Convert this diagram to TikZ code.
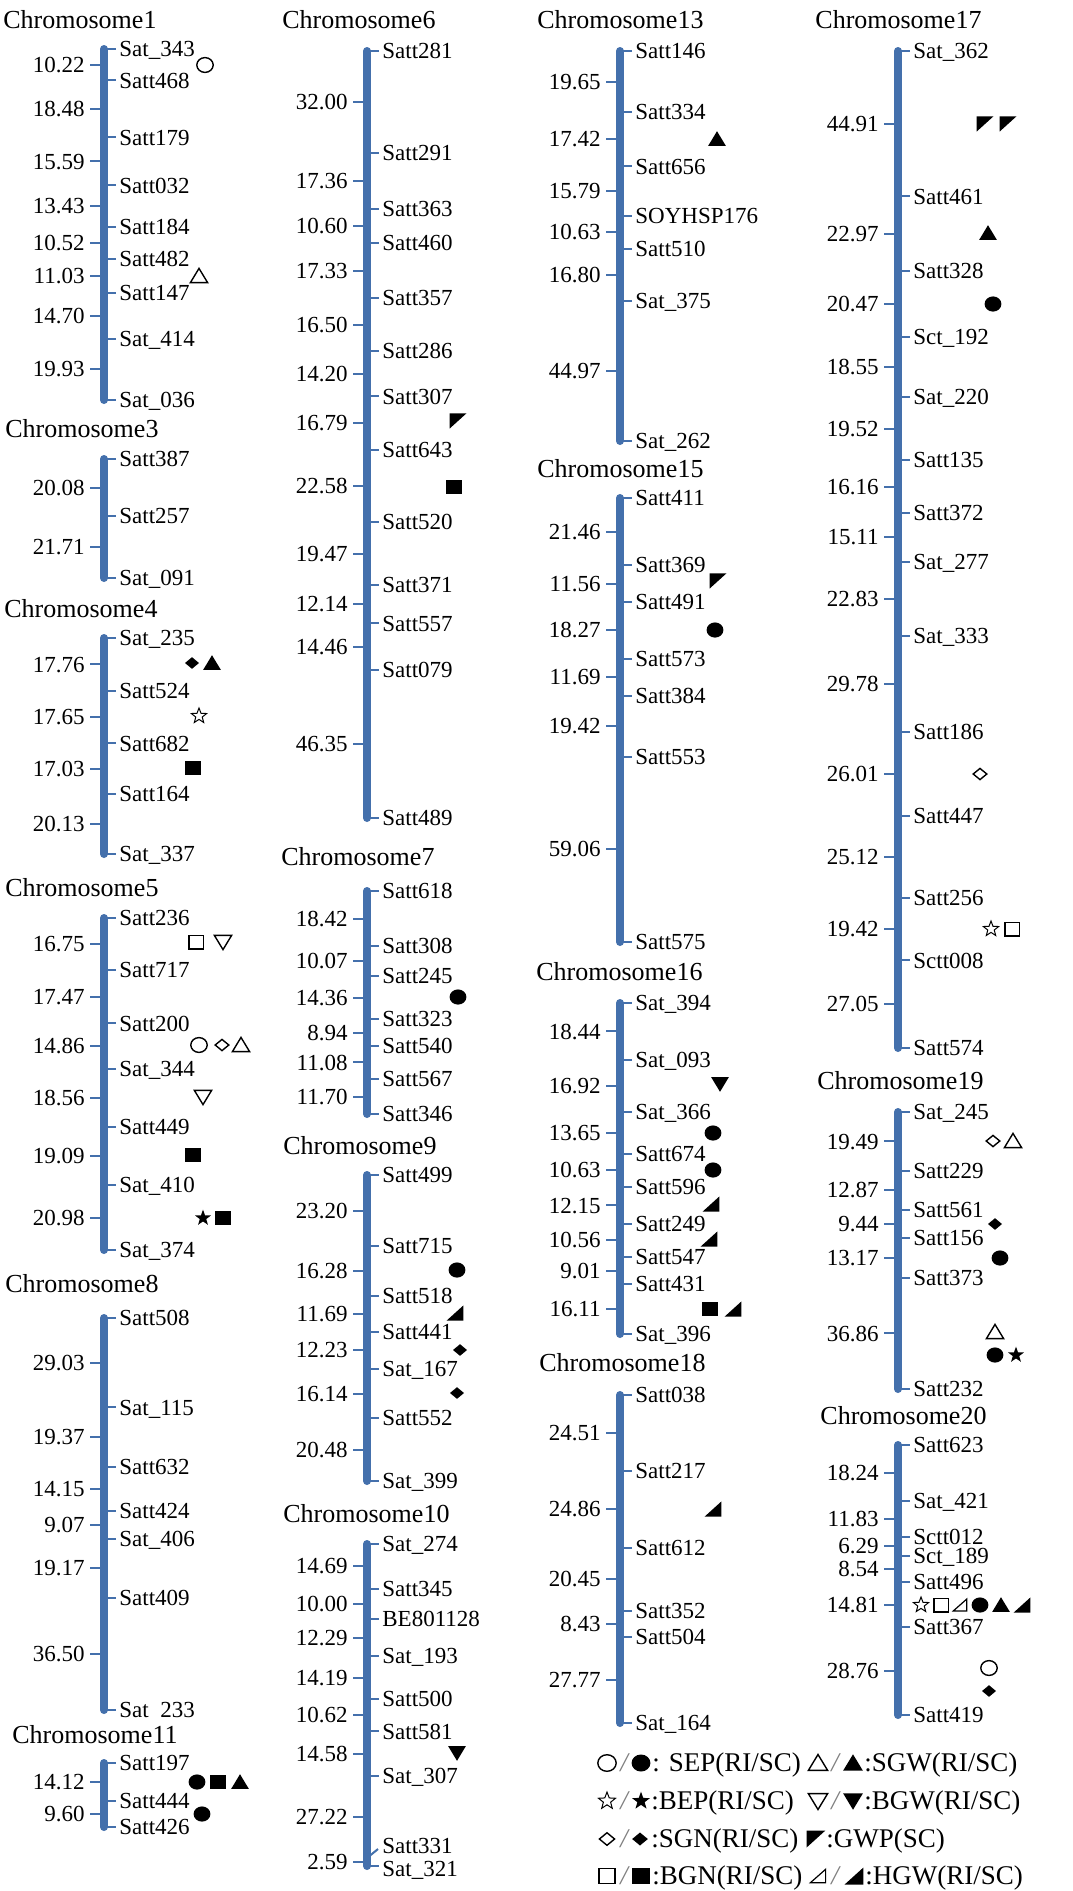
\documentclass[tikz,border=0pt]{standalone}
\usepackage{fontspec}
\setmainfont{Liberation Serif}
\definecolor{barblue}{RGB}{68,112,172}
\tikzset{
  x=0.5pt, y=-0.5pt,
  bar/.style={line width=4pt, draw=barblue, line cap=round},
  tick/.style={line width=1pt, draw=barblue},
  mk/.style={anchor=west, inner sep=0pt, text height=7.6pt, text depth=0pt, font=\fontsize{11.5}{13}\selectfont},
  num/.style={anchor=east, inner sep=0pt, text height=7.6pt, text depth=0pt, font=\fontsize{11.5}{13}\selectfont},
  ttl/.style={anchor=west, inner sep=0pt, text height=8.6pt, text depth=0pt, font=\fontsize{13}{15}\selectfont},
  lgt/.style={anchor=west, inner sep=0pt, text height=8.9pt, text depth=0pt, font=\fontsize{13.5}{15}\selectfont},
  lgs/.style={inner sep=0pt, text height=8.9pt, text depth=0pt, font=\fontsize{13.5}{15}\selectfont\itshape, gray},
  symo/.style={line width=0.7pt, draw=black},
}
\newcommand\chromo[7]{%
  \pgfmathsetmacro\chS{(#4-#3)/#5}%
  \draw[bar] (#2,#3) -- (#2,#4);
  \foreach \cm/\nm [count=\i] in {#6}{%
    \draw[tick] (#2,{#3+\cm*\chS}) -- ++(12,0);
    \node[mk] (#1m\i) at ({#2+15},{#3+\cm*\chS}) {\nm};
  }%
  \foreach \am/\vm [count=\i] in {#7}{%
    \draw[tick] (#2,{#3+(\am+\vm/2)*\chS}) -- ++(-14,0);
    \node[num] (#1d\i) at ({#2-19},{#3+(\am+\vm/2)*\chS}) {\vm};
  }%
}
\newcommand\putsym[3]{\begin{scope}[shift={(#2,#3)}]#1\end{scope}}
\newcommand\putsymL[3]{\begin{scope}[shift={(#2,#3)}, scale=1.12]#1\end{scope}}
\newcommand\syOC{\draw[symo] (0pt,0pt) ellipse [x radius=4.1pt, y radius=3.7pt];}
\newcommand\syFC{\fill (0pt,0pt) ellipse [x radius=4.2pt, y radius=3.8pt];}
\newcommand\syOS{\draw[symo] (-3.6pt,-3.4pt) rectangle (3.6pt,3.4pt);}
\newcommand\syFS{\fill (-3.8pt,-3.5pt) rectangle (3.8pt,3.5pt);}
\newcommand\syOT{\draw[symo] (-4.3pt,-3.3pt) -- (4.3pt,-3.3pt) -- (0pt,3.8pt) -- cycle;}
\newcommand\syFT{\fill (-4.4pt,-3.4pt) -- (4.4pt,-3.4pt) -- (0pt,3.9pt) -- cycle;}
\newcommand\syOV{\draw[symo] (-4.3pt,3.3pt) -- (4.3pt,3.3pt) -- (0pt,-3.8pt) -- cycle;}
\newcommand\syFV{\fill (-4.4pt,3.4pt) -- (4.4pt,3.4pt) -- (0pt,-3.9pt) -- cycle;}
\newcommand\syOD{\draw[symo] (-3.4pt,0pt) -- (0pt,2.8pt) -- (3.4pt,0pt) -- (0pt,-2.8pt) -- cycle;}
\newcommand\syFD{\fill (-3.5pt,0pt) -- (0pt,2.9pt) -- (3.5pt,0pt) -- (0pt,-2.9pt) -- cycle;}
\newcommand\syOStar{\draw[line width=0.5pt] (90:4pt)--(126:1.7pt)--(162:4pt)--(198:1.7pt)--(234:4pt)--(270:1.7pt)--(306:4pt)--(342:1.7pt)--(18:4pt)--(54:1.7pt)--cycle;}
\newcommand\syFStar{\fill (90:4.2pt)--(126:1.7pt)--(162:4.2pt)--(198:1.7pt)--(234:4.2pt)--(270:1.7pt)--(306:4.2pt)--(342:1.7pt)--(18:4.2pt)--(54:1.7pt)--cycle;}
\newcommand\syGWP{\fill (-4.2pt,3.8pt) -- (4.2pt,3.8pt) -- (-4.2pt,-3.8pt) -- cycle;}
\newcommand\syFH{\fill (4.2pt,-3.8pt) -- (4.2pt,3.8pt) -- (-4.2pt,-3.8pt) -- cycle;}
\newcommand\syOH{\draw[line width=0.6pt] (3.4pt,-3pt) -- (3.4pt,3pt) -- (-3.4pt,-3pt) -- cycle;}
\begin{document}
\begin{tikzpicture}
\useasboundingbox (0,0) rectangle (1072,1891);
\fill[white] (0,0) rectangle (1072,1891);

% ---------- column 1 ----------
\node[ttl] (t1) at (3,20) {Chromosome1};
\chromo{c1}{104}{49}{400}{113.90}{0/Sat\_343, 10.22/Satt468, 28.70/Satt179, 44.29/Satt032, 57.72/Satt184, 68.24/Satt482, 79.27/Satt147, 93.97/Sat\_414, 113.90/Sat\_036}{0/10.22, 10.22/18.48, 28.70/15.59, 44.29/13.43, 57.72/10.52, 68.24/11.03, 79.27/14.70, 93.97/19.93}
\node[ttl] (t3) at (5,429) {Chromosome3};
\chromo{c3}{104}{459}{578}{41.79}{0/Satt387, 20.08/Satt257, 41.79/Sat\_091}{0/20.08, 20.08/21.71}
\node[ttl] (t4) at (4,609) {Chromosome4};
\chromo{c4}{104}{638}{854}{72.57}{0/Sat\_235, 17.76/Satt524, 35.41/Satt682, 52.44/Satt164, 72.57/Sat\_337}{0/17.76, 17.76/17.65, 35.41/17.03, 52.44/20.13}
\node[ttl] (t5) at (5,888) {Chromosome5};
\chromo{c5}{104}{918}{1250}{107.71}{0/Satt236, 16.75/Satt717, 34.22/Satt200, 49.08/Sat\_344, 67.64/Satt449, 86.73/Sat\_410, 107.71/Sat\_374}{0/16.75, 16.75/17.47, 34.22/14.86, 49.08/18.56, 67.64/19.09, 86.73/20.98}
\node[ttl] (t8) at (5,1284) {Chromosome8};
\chromo{c8}{104}{1318}{1710}{127.29}{0/Satt508, 29.03/Sat\_115, 48.40/Satt632, 62.55/Satt424, 71.62/Sat\_406, 90.79/Satt409, 127.29/Sat\kern0.5em 233}{0/29.03, 29.03/19.37, 48.40/14.15, 62.55/9.07, 71.62/19.17, 90.79/36.50}
\node[ttl] (t11) at (12,1735) {Chromosome11};
\chromo{c11}{104}{1763}{1827}{23.72}{0/Satt197, 14.12/Satt444, 23.72/Satt426}{0/14.12, 14.12/9.60}

% ---------- column 2 ----------
\node[ttl] (t6) at (282,20) {Chromosome6};
\chromo{c6}{367}{51}{818}{239.78}{0/Satt281, 32.00/Satt291, 49.36/Satt363, 59.96/Satt460, 77.29/Satt357, 93.79/Satt286, 107.99/Satt307, 124.78/Satt643, 147.36/Satt520, 166.83/Satt371, 178.97/Satt557, 193.43/Satt079, 239.78/Satt489}{0/32.00, 32.00/17.36, 49.36/10.60, 59.96/17.33, 77.29/16.50, 93.79/14.20, 107.99/16.79, 124.78/22.58, 147.36/19.47, 166.83/12.14, 178.97/14.46, 193.43/46.35}
\node[ttl] (t7) at (281,857) {Chromosome7};
\chromo{c7}{367}{891}{1114}{74.57}{0/Satt618, 18.42/Satt308, 28.49/Satt245, 42.85/Satt323, 51.79/Satt540, 62.87/Satt567, 74.57/Satt346}{0/18.42, 18.42/10.07, 28.49/14.36, 42.85/8.94, 51.79/11.08, 62.87/11.70}
\node[ttl] (t9) at (283,1146) {Chromosome9};
\chromo{c9}{367}{1175}{1481}{100.02}{0/Satt499, 23.20/Satt715, 39.48/Satt518, 51.17/Satt441, 63.40/Sat\_167, 79.54/Satt552, 100.02/Sat\_399}{0/23.20, 23.20/16.28, 39.48/11.69, 51.17/12.23, 63.40/16.14, 79.54/20.48}
\node[ttl] (t10) at (283,1514) {Chromosome10};
\chromo{c10}{367}{1544}{1866}{106.18}{0/Sat\_274, 14.69/Satt345, 24.69/BE801128, 36.98/Sat\_193, 51.17/Satt500, 61.79/Satt581, 76.37/Sat\_307}{0/14.69, 14.69/10.00, 24.69/12.29, 36.98/14.19, 51.17/10.62, 61.79/14.58, 76.37/27.22, 103.59/2.59}
\coordinate (c10a) at (367,1858);
\coordinate (c10b) at (378,1849);
\draw[tick] (c10a) -- (c10b);
\node[mk] (c10m8) at (382,1846) {Satt331};
\coordinate (c10c) at (367,1866);
\coordinate (c10d) at (379,1866);
\draw[tick] (c10c) -- (c10d);
\node[mk] (c10m9) at (382,1869) {Sat\_321};

% ---------- column 3 ----------
\node[ttl] (t13) at (537,20) {Chromosome13};
\chromo{c13}{620}{51}{441}{125.26}{0/Satt146, 19.65/Satt334, 37.07/Satt656, 52.86/SOYHSP176, 63.49/Satt510, 80.29/Sat\_375, 125.26/Sat\_262}{0/19.65, 19.65/17.42, 37.07/15.79, 52.86/10.63, 63.49/16.80, 80.29/44.97}
\node[ttl] (t15) at (537,469) {Chromosome15};
\chromo{c15}{620}{498}{942}{141.46}{0/Satt411, 21.46/Satt369, 33.02/Satt491, 51.29/Satt573, 62.98/Satt384, 82.40/Satt553, 141.46/Satt575}{0/21.46, 21.46/11.56, 33.02/18.27, 51.29/11.69, 62.98/19.42, 82.40/59.06}
\node[ttl] (t16) at (536,972) {Chromosome16};
\chromo{c16}{620}{1003}{1334}{107.47}{0/Sat\_394, 18.44/Sat\_093, 35.36/Sat\_366, 49.01/Satt674, 59.64/Satt596, 71.79/Satt249, 82.35/Satt547, 91.36/Satt431, 107.47/Sat\_396}{0/18.44, 18.44/16.92, 35.36/13.65, 49.01/10.63, 59.64/12.15, 71.79/10.56, 82.35/9.01, 91.36/16.11}
\node[ttl] (t18) at (539,1363) {Chromosome18};
\chromo{c18}{620}{1395}{1723}{106.02}{0/Satt038, 24.51/Satt217, 49.37/Satt612, 69.82/Satt352, 78.25/Satt504, 106.02/Sat\_164}{0/24.51, 24.51/24.86, 49.37/20.45, 69.82/8.43, 78.25/27.77}

% ---------- column 4 ----------
\node[ttl] (t17) at (815,20) {Chromosome17};
\chromo{c17}{898}{51}{1048}{307.90}{0/Sat\_362, 44.91/Satt461, 67.88/Satt328, 88.35/Sct\_192, 106.90/Sat\_220, 126.42/Satt135, 142.58/Satt372, 157.69/Sat\_277, 180.52/Sat\_333, 210.30/Satt186, 236.31/Satt447, 261.43/Satt256, 280.85/Sctt008, 307.90/Satt574}{0/44.91, 44.91/22.97, 67.88/20.47, 88.35/18.55, 106.90/19.52, 126.42/16.16, 142.58/15.11, 157.69/22.83, 180.52/29.78, 210.30/26.01, 236.31/25.12, 261.43/19.42, 280.85/27.05}
\node[ttl] (t19) at (817,1081) {Chromosome19};
\chromo{c19}{898}{1112}{1389}{91.83}{0/Sat\_245, 19.49/Satt229, 32.36/Satt561, 41.80/Satt156, 54.97/Satt373, 91.83/Satt232}{0/19.49, 19.49/12.87, 32.36/9.44, 41.80/13.17, 54.97/36.86}
\node[ttl] (t20) at (820,1416) {Chromosome20};
\chromo{c20}{898}{1445}{1715}{88.47}{0/Satt623, 18.24/Sat\_421, 30.07/Sctt012, 36.36/Sct\_189, 44.90/Satt496, 59.71/Satt367, 88.47/Satt419}{0/18.24, 18.24/11.83, 30.07/6.29, 36.36/8.54, 44.90/14.81, 59.71/28.76}

% ---------- QTL symbols ----------
% chr1
\putsym{\syOC}{205}{65}
\putsym{\syOT}{199}{276}
% chr4
\putsym{\syFD}{192}{663}
\putsym{\syFT}{212}{663}
\putsym{\syOStar}{199}{716}
\putsym{\syFS}{193}{768}
% chr5
\putsym{\syOS}{196}{942}
\putsym{\syOV}{223}{942}
\putsym{\syOC}{199}{1045}
\putsym{\syOD}{222}{1045}
\putsym{\syOT}{241}{1045}
\putsym{\syOV}{203}{1097}
\putsym{\syFS}{193}{1155}
\putsym{\syFStar}{203}{1218}
\putsym{\syFS}{223}{1218}
% chr11
\putsym{\syFC}{197}{1782}
\putsym{\syFS}{218}{1782}
\putsym{\syFT}{240}{1782}
\putsym{\syFC}{202}{1814}
% chr6
\putsym{\syGWP}{458}{421}
\putsym{\syFS}{454}{487}
% chr7
\putsym{\syFC}{458}{997}
% chr9
\putsym{\syFC}{457}{1270}
\putsym{\syFH}{455}{1313}
\putsym{\syFD}{460}{1350}
\putsym{\syFD}{457}{1393}
% chr10
\putsym{\syFV}{457}{1753}
% chr13
\putsym{\syFT}{717}{139}
% chr15
\putsym{\syGWP}{718}{581}
\putsym{\syFC}{715}{630}
% chr16
\putsym{\syFV}{720}{1084}
\putsym{\syFC}{713}{1133}
\putsym{\syFC}{713}{1170}
\putsym{\syFH}{711}{1204}
\putsym{\syFH}{709}{1239}
\putsym{\syFS}{710}{1309}
\putsym{\syFH}{733}{1309}
% chr18
\putsym{\syFH}{713}{1509}
% chr17
\putsym{\syGWP}{985}{124}
\putsym{\syGWP}{1008}{124}
\putsym{\syFT}{988}{233}
\putsym{\syFC}{993}{304}
\putsym{\syOD}{980}{774}
\putsym{\syOStar}{991}{929}
\putsym{\syOS}{1012}{929}
% chr19
\putsym{\syOD}{993}{1141}
\putsym{\syOT}{1013}{1141}
\putsym{\syFD}{995}{1224}
\putsym{\syFC}{1000}{1258}
\putsym{\syOT}{995}{1332}
\putsym{\syFC}{995}{1355}
\putsym{\syFStar}{1016}{1355}
% chr20
\putsym{\syOStar}{921}{1605}
\putsym{\syOS}{941}{1605}
\putsym{\syOH}{960}{1605}
\putsym{\syFC}{980}{1605}
\putsym{\syFT}{1001}{1605}
\putsym{\syFH}{1022}{1605}
\putsym{\syOC}{989}{1668}
\putsym{\syFD}{989}{1691}

% ---------- legend ----------
\putsymL{\syOC}{607}{1763}
\node[lgs] (l1s) at (624,1763) {/};
\putsymL{\syFC}{641}{1763}
\node[lgt] (l1t) at (652,1763) {: SEP(RI/SC)};
\putsymL{\syOStar}{607}{1801}
\node[lgs] (l2s) at (624,1801) {/};
\putsymL{\syFStar}{641}{1801}
\node[lgt] (l2t) at (651,1801) {:BEP(RI/SC)};
\putsymL{\syOD}{607}{1839}
\node[lgs] (l3s) at (624,1839) {/};
\putsymL{\syFD}{640}{1839}
\node[lgt] (l3t) at (651,1839) {:SGN(RI/SC)};
\putsymL{\syOS}{607}{1876}
\node[lgs] (l4s) at (624,1876) {/};
\putsymL{\syFS}{641}{1876}
\node[lgt] (l4t) at (652,1876) {:BGN(RI/SC)};

\putsymL{\syOT}{818}{1763}
\node[lgs] (l5s) at (835,1763) {/};
\putsymL{\syFT}{853}{1763}
\node[lgt] (l5t) at (864,1763) {:SGW(RI/SC)};
\putsymL{\syOV}{818}{1801}
\node[lgs] (l6s) at (835,1801) {/};
\putsymL{\syFV}{853}{1801}
\node[lgt] (l6t) at (864,1801) {:BGW(RI/SC)};
\putsymL{\syGWP}{816}{1839}
\node[lgt] (l7t) at (826,1839) {:GWP(SC)};
\putsymL{\syOH}{818}{1876}
\node[lgs] (l8s) at (835,1876) {/};
\putsymL{\syFH}{854}{1876}
\node[lgt] (l8t) at (865,1876) {:HGW(RI/SC)};
\end{tikzpicture}
\end{document}
